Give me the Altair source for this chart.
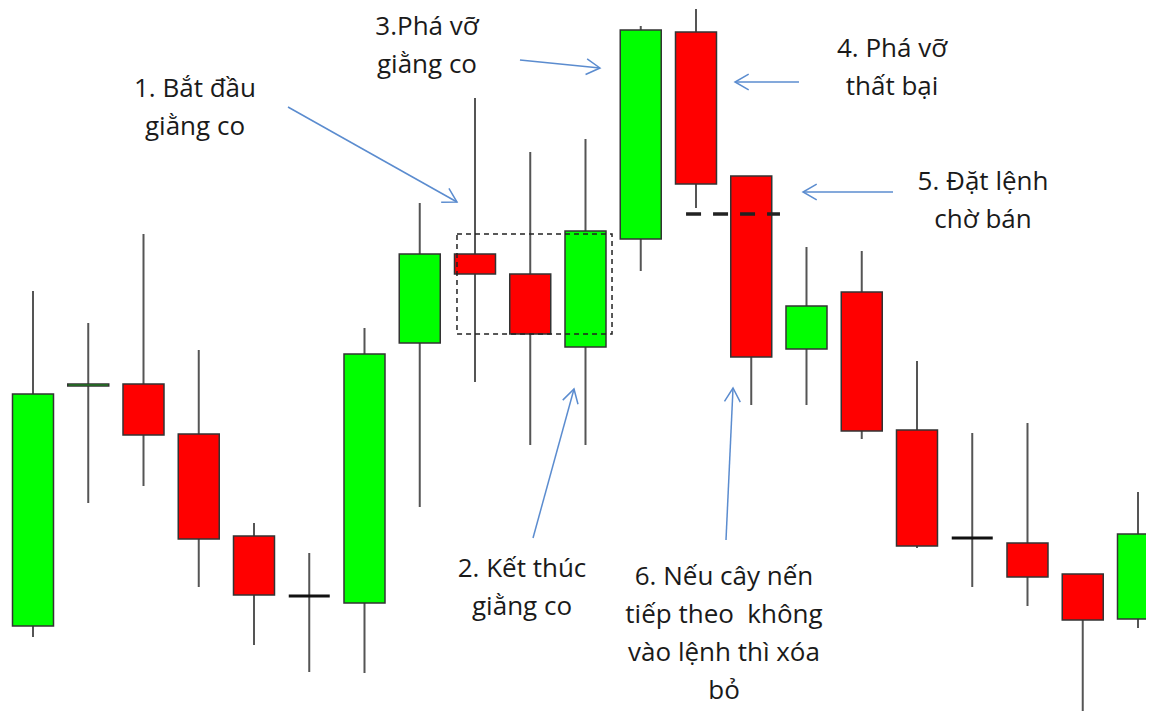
import math
import altair as alt
import pandas as pd

# ---- candle data (price units) ----
candle_index = list(range(21))
open_p = [93, 333, 335, 285, 183, 123, 116, 376, 465, 445, 372, 480, 687, 543, 370, 427, 289, 181, 176, 145, 100]
high_p = [428, 396, 485, 369, 196, 166, 391, 516, 621, 567, 580, 693, 710, 543, 472, 468, 358, 286, 296, 145, 227]
low_p = [82, 216, 233, 132, 74, 47, 46, 212, 337, 274, 274, 448, 511, 314, 314, 280, 171, 132, 113, 2, 91]
close_p = [325, 335, 284, 180, 124, 123, 365, 465, 445, 385, 488, 689, 535, 362, 413, 288, 173, 181, 142, 99, 185]

# ---- annotations (data units) ----
box_x = [7.674, 10.48]
box_y = [385, 485]
pending_x = [11.82, 13.52]
pending_y = [505]

arrow_x0 = [4.615, 9.050, 8.814, 13.864, 15.566, 12.543]
arrow_y0 = [612, 181, 659, 637, 527, 179]
arrow_x1 = [7.674, 9.792, 10.262, 12.706, 13.937, 12.670]
arrow_y1 = [517, 330, 651, 637, 527, 331]

labels = [
    "1. Bắt đầu\ngiằng co",
    "2. Kết thúc\ngiằng co",
    "3.Phá vỡ\ngiằng co",
    "4. Phá vỡ\nthất bại",
    "5. Đặt lệnh\nchờ bán",
    "6. Nếu cây nến\ntiếp theo\u00a0 không\nvào lệnh thì xóa\nbỏ",
]
label_x = [2.932, 8.851, 7.131, 15.548, 17.195, 12.507]
label_y = [622, 142, 684, 662, 529, 134]

W, H = 1138, 703
X_DOM = [-0.4525, 20.1449]
Y_DOM = [8, 711]
px_per_x = W / (X_DOM[1] - X_DOM[0])
px_per_y = H / (Y_DOM[1] - Y_DOM[0])

xs = alt.Scale(domain=X_DOM, nice=False, zero=False)
ys = alt.Scale(domain=Y_DOM, nice=False, zero=False)

df = pd.DataFrame({"i": candle_index, "open": open_p, "high": high_p,
                   "low": low_p, "close": close_p})
df["dir"] = ["up" if c > o else ("down" if c < o else "doji") for o, c in zip(open_p, close_p)]
half = 20.5 / px_per_x
df["xl"] = df["i"] - half
df["xr"] = df["i"] + half

base = alt.Chart(df)

wicks = base.mark_rule(color="#555555", strokeWidth=2).encode(
    x=alt.X("i:Q", scale=xs, axis=None),
    y=alt.Y("low:Q", scale=ys, axis=None),
    y2="high:Q",
)

bodies = base.transform_filter(alt.datum.dir != "doji").mark_rect(
    stroke="#333333", strokeWidth=1.5
).encode(
    x=alt.X("xl:Q", scale=xs, axis=None),
    x2="xr:Q",
    y=alt.Y("open:Q", scale=ys, axis=None),
    y2="close:Q",
    color=alt.Color("dir:N", scale=alt.Scale(domain=["up", "down"], range=["#00ff00", "#ff0000"]), legend=None),
)

dojis = base.transform_filter(alt.datum.dir == "doji").mark_rule(
    color="#111111", strokeWidth=3
).encode(
    x=alt.X("xl:Q", scale=xs, axis=None),
    x2="xr:Q",
    y=alt.Y("close:Q", scale=ys, axis=None),
)

box_df = pd.DataFrame({"x": [box_x[0]], "x2": [box_x[1]], "y": [box_y[0]], "y2": [box_y[1]]})
box = alt.Chart(box_df).mark_rect(
    fillOpacity=0, stroke="#222222", strokeWidth=1.5, strokeDash=[5, 4]
).encode(
    x=alt.X("x:Q", scale=xs, axis=None), x2="x2:Q",
    y=alt.Y("y:Q", scale=ys, axis=None), y2="y2:Q",
)

pend_df = pd.DataFrame({"x": [pending_x[0]], "x2": [pending_x[1]], "y": pending_y})
pending = alt.Chart(pend_df).mark_rule(
    color="#222222", strokeWidth=3.5, strokeDash=[15, 12]
).encode(
    x=alt.X("x:Q", scale=xs, axis=None), x2="x2:Q",
    y=alt.Y("y:Q", scale=ys, axis=None),
)

angles = []
for x0, y0, x1, y1 in zip(arrow_x0, arrow_y0, arrow_x1, arrow_y1):
    dx = (x1 - x0) * px_per_x
    dy = -(y1 - y0) * px_per_y
    angles.append(math.degrees(math.atan2(dx, -dy)) % 360)

arr_df = pd.DataFrame({"x0": arrow_x0, "y0": arrow_y0, "x1": arrow_x1, "y1": arrow_y1, "ang": angles})
ARROW = "#5b8ccf"
shafts = alt.Chart(arr_df).mark_rule(color=ARROW, strokeWidth=1.5).encode(
    x=alt.X("x0:Q", scale=xs, axis=None), x2="x1:Q",
    y=alt.Y("y0:Q", scale=ys, axis=None), y2="y1:Q",
)
heads = alt.Chart(arr_df).mark_point(
    shape="M -0.5 0.866 L 0 0 L 0.5 0.866", filled=False, size=1000,
    color=ARROW, strokeWidth=1.5, opacity=1,
).encode(
    x=alt.X("x1:Q", scale=xs, axis=None),
    y=alt.Y("y1:Q", scale=ys, axis=None),
    angle=alt.Angle("ang:Q", scale=None),
)

txt_df = pd.DataFrame({"x": label_x, "y": label_y, "t": labels})
texts = alt.Chart(txt_df).mark_text(
    font="Open Sans", fontSize=26, fontWeight=500, color="#1a1a1a", align="center",
    baseline="alphabetic", lineBreak="\n", lineHeight=38,
).encode(
    x=alt.X("x:Q", scale=xs, axis=None),
    y=alt.Y("y:Q", scale=ys, axis=None),
    text="t:N",
)

chart = alt.layer(wicks, bodies, dojis, box, pending, shafts, heads, texts).properties(
    width=W, height=H, padding=0, background="white",
    autosize=alt.AutoSizeParams(type="none"),
).configure_view(strokeWidth=0)

chart.save("out.html", embed_options={"renderer": "svg", "actions": False})
